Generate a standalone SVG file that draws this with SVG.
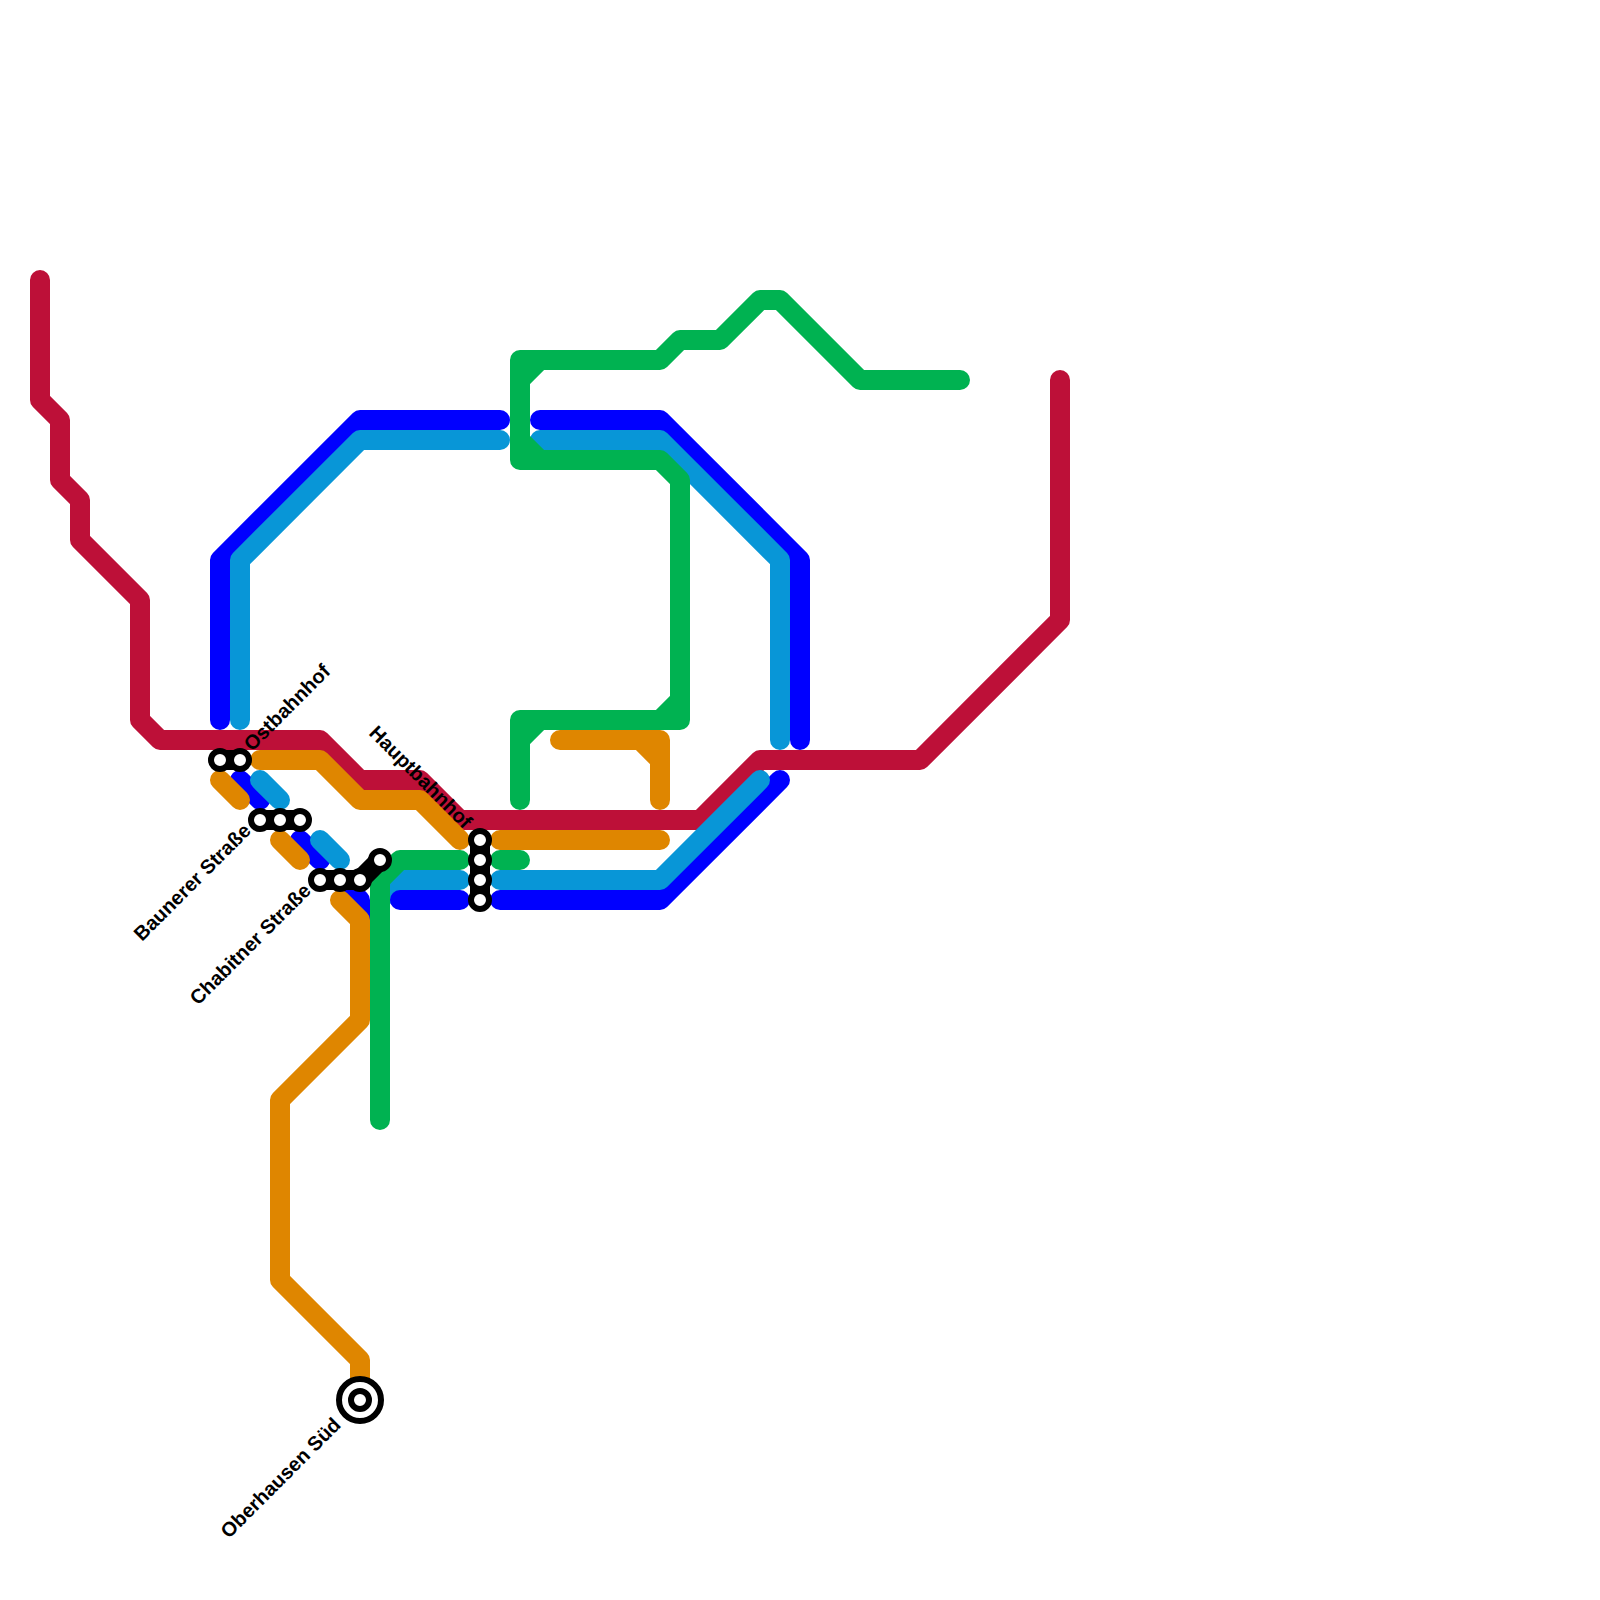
<svg xmlns="http://www.w3.org/2000/svg" width="1600" height="1600" viewBox="0 0 1600 1600">
<style>
.l{fill:none;stroke-width:20;stroke-linecap:round;stroke-linejoin:round}
.red{stroke:#bd1038}.blue{stroke:#0000ff}.lb{stroke:#0896d7}.or{stroke:#df8600}.gr{stroke:#00b251}
.link{fill:none;stroke:#000;stroke-width:20;stroke-linecap:round}
.st{fill:#fff;stroke:#000;stroke-width:6}
text{font-family:"Liberation Sans",Arial,sans-serif;font-size:20px;font-weight:700;fill:#000}
</style>
<rect width="1600" height="1600" fill="#fff"/>
<g id="connectors">
<path class="l lb" d="M380 900L400 880"/>
<path class="l blue" d="M220 720V560L360 420H500M540 420H660L800 560V740M780 780L660 900H500M400 900H460M240 780L260 800M300 840L320 860M340 880L360 900V960"/>
<path class="l red" d="M40 280V400L60 420V480L80 500V540L140 600V720L160 740H320L360 780H420L460 820H700L760 760H920L1060 620V380"/>
<path class="l lb" d="M240 720V560L360 440H500M540 440H660L780 560V740M400 880H460M500 880H660L760 780M260 780L280 800M320 840L340 860"/>
<path class="l or" d="M260 760H320L360 800H420L460 840M500 840H660M560 740H660V800M640 740L660 760M220 780L240 800M280 840L300 860M340 900L360 920V1020L280 1100V1280L360 1360V1400"/>
<path class="l gr" d="M380 1120V880L400 860H460M500 860H520M520 800V720H680V480L660 460H520V360H660L680 340H720L760 300H780L860 380H960M520 740L540 720M660 720L680 700M520 380L540 360M520 440L540 460"/>
</g>
<g id="links">
<path class="link" d="M220 760H240M260 820H300M320 880H360L380 860M480 840V900"/>
</g>
<g id="station-ostbahnhof"><circle class="st" cx="220" cy="760" r="9"/><circle class="st" cx="240" cy="760" r="9"/><text transform="translate(252 752) rotate(-45)">Ostbahnhof</text></g>
<g id="station-baunerer"><circle class="st" cx="260" cy="820" r="9"/><circle class="st" cx="280" cy="820" r="9"/><circle class="st" cx="300" cy="820" r="9"/><text transform="translate(252 832) rotate(-45)" text-anchor="end">Baunerer Straße</text></g>
<g id="station-chabitner"><circle class="st" cx="320" cy="880" r="9"/><circle class="st" cx="340" cy="880" r="9"/><circle class="st" cx="360" cy="880" r="9"/><circle class="st" cx="380" cy="860" r="9"/><text transform="translate(312 892) rotate(-45)" text-anchor="end">Chabitner Straße</text></g>
<g id="station-hauptbahnhof"><circle class="st" cx="480" cy="840" r="9"/><circle class="st" cx="480" cy="860" r="9"/><circle class="st" cx="480" cy="880" r="9"/><circle class="st" cx="480" cy="900" r="9"/><text transform="translate(368 734) rotate(45)">Hauptbahnhof</text></g>
<g id="station-oberhausen"><circle cx="360" cy="1400" r="21" fill="#fff" stroke="#000" stroke-width="6"/><circle class="st" cx="360" cy="1400" r="9"/><text transform="translate(342 1426) rotate(-45)" text-anchor="end">Oberhausen Süd</text></g>
</svg>
